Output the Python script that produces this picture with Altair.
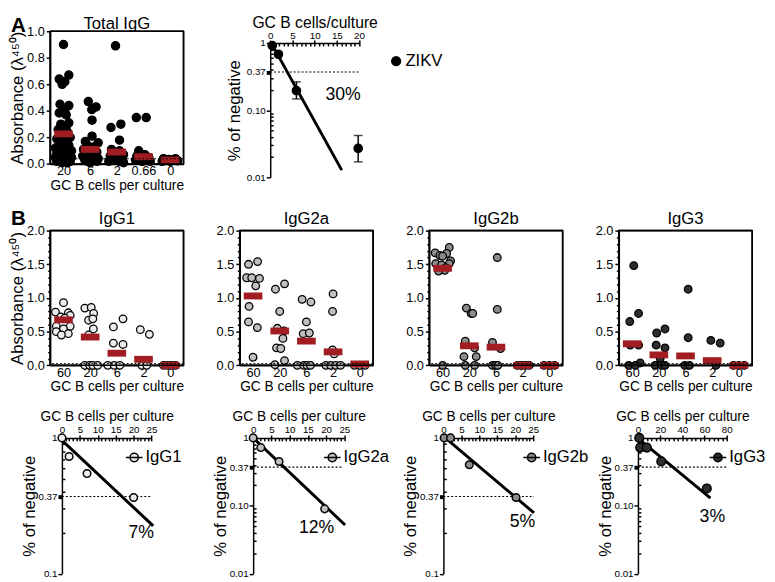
import altair as alt
import pandas as pd

FONT = "Liberation Sans"
RED = "#a11d21"

W = 136
H_A = 135.4
H_B = 137.4
H_C = 145
COL_GAP = 57.3
ROW_GAP = 67.3

# ---------------- Panel A left: Total IgG ----------------
tot_cats = ["20", "6", "2", "0.66", "0"]
tot_y = [
    [0.90, 0.67, 0.64, 0.62, 0.60, 0.45, 0.44, 0.40, 0.385, 0.37, 0.31, 0.30, 0.28, 0.26, 0.24,
     0.22, 0.20, 0.19, 0.17, 0.16, 0.14, 0.12, 0.11, 0.10, 0.10, 0.09, 0.08, 0.08, 0.07, 0.06,
     0.06, 0.05, 0.05, 0.04, 0.04, 0.03, 0.03, 0.02, 0.02, 0.01, 0.01],
    [0.47, 0.43, 0.41, 0.33, 0.21, 0.17, 0.16, 0.14, 0.13, 0.11, 0.10, 0.09, 0.08, 0.07, 0.06,
     0.05, 0.05, 0.04, 0.03, 0.03, 0.02, 0.02, 0.01],
    [0.89, 0.30, 0.275, 0.18, 0.11, 0.10, 0.08, 0.07, 0.06, 0.05, 0.04, 0.03, 0.02, 0.02, 0.01],
    [0.35, 0.35, 0.10, 0.07, 0.06, 0.05, 0.04, 0.03, 0.03, 0.02, 0.02],
    [0.04, 0.04, 0.035, 0.03, 0.03, 0.025, 0.02, 0.02],
]
tot_dx = [
    [0.0, 0.2, -0.16, 0.05, -0.05, -0.13, 0.2, 0.05, -0.16, 0.1, 0.2, -0.1, 0.1, -0.2, 0.15,
     -0.05, 0.25, -0.25, 0.1, -0.15, 0.2, -0.3, 0.05, 0.3, -0.1, 0.15, -0.25, 0.25, -0.05, 0.1,
     -0.2, 0.3, -0.3, 0.0, 0.2, -0.15, 0.1, -0.25, 0.25, -0.05, 0.15],
    [-0.07, 0.22, 0.06, 0.07, 0.07, -0.18, 0.3, -0.1, 0.15, -0.25, 0.05, 0.25, -0.15, 0.1, -0.28,
     0.2, -0.05, 0.3, -0.2, 0.1, -0.1, 0.25, 0.0],
    [-0.05, 0.15, -0.22, 0.1, -0.2, 0.1, -0.05, 0.25, -0.25, 0.05, 0.2, -0.15, 0.1, -0.3, 0.25],
    [-0.27, 0.1, -0.18, 0.05, -0.25, 0.2, -0.1, 0.1, -0.3, 0.25, -0.05],
    [-0.25, 0.2, -0.05, 0.1, -0.2, 0.28, 0.0, -0.3],
]
tot_means = [0.227, 0.11, 0.09, 0.055, 0.03]
tot_cutoff = 0.04
tot_ticks = [0, 0.2, 0.4, 0.6, 0.8, 1.0]

# ---------------- Panel B top: isotypes ----------------
b_cats = ["60", "20", "6", "2", "0"]
b_ticks = [0, 0.5, 1.0, 1.5, 2.0]
b_minor = [0.1, 0.2, 0.3, 0.4, 0.6, 0.7, 0.8, 0.9, 1.1, 1.2, 1.3, 1.4, 1.6, 1.7, 1.8, 1.9]
b_cutoff = 0.025

igg1_y = [[0.93, 0.79, 0.78, 0.74, 0.72, 0.70, 0.58, 0.58, 0.54, 0.50, 0.47, 0.45],
          [0.85, 0.86, 0.77, 0.67, 0.69, 0.54, 0.45, 0, 0, 0, 0],
          [0.57, 0.69, 0.33, 0.31, 0, 0, 0],
          [0.53, 0.46, 0, 0],
          [0, 0, 0, 0]]
igg1_dx = [[0.0, -0.3, 0.18, 0.25, -0.1, 0.05, -0.27, 0.25, 0.0, -0.27, 0.18, -0.08],
           [-0.2, 0.04, 0.13, -0.06, 0.1, 0.12, -0.06, -0.2, -0.02, 0.1, 0.28],
           [-0.13, 0.23, -0.13, 0.23, -0.34, -0.1, 0.11],
           [-0.12, 0.22, -0.06, 0.12],
           [-0.25, -0.1, 0.05, 0.2]]
igg1_means = [0.675, 0.42, 0.18, 0.09, 0.0]

igg2a_y = [[1.54, 1.50, 1.30, 1.30, 1.18, 1.29, 0.875, 0.645, 0.56, 0.12],
           [1.13, 1.21, 0.80, 0.55, 0.51, 0.40, 0.26, 0.25, 0.07, 0.01],
           [0.98, 0.94, 0.645, 0.47, 0.48, 0, 0, 0, 0],
           [1.06, 0.80, 0.23, 0.17, 0, 0, 0, 0],
           [0, 0, 0]]
igg2a_dx = [[0.17, -0.17, -0.24, -0.05, 0.1, 0.24, -0.15, -0.17, 0.16, 0.0],
            [-0.16, 0.18, 0.0, -0.09, 0.16, 0.12, -0.12, 0.04, 0.18, -0.18],
            [-0.16, 0.17, 0.0, -0.12, 0.11, -0.34, -0.1, 0.02, 0.15],
            [0.0, -0.02, -0.02, 0.04, -0.27, -0.09, 0.1, 0.28],
            [-0.2, 0.0, 0.2]]
igg2a_means = [1.03, 0.51, 0.36, 0.20, 0.02]

igg2b_y = [[1.75, 1.67, 1.66, 1.63, 1.62, 1.55, 1.51, 1.51, 1.49, 1.45, 1.41, 1.40, 0.0],
           [0.85, 0.77, 0.77, 0.36, 0.26, 0.13, 0.13, 0, 0],
           [1.60, 0.83, 0.34, 0.25, 0, 0, 0],
           [0, 0, 0, 0],
           [0, 0, 0]]
igg2b_dx = [[0.25, -0.28, 0.15, -0.1, 0.0, 0.3, -0.26, 0.25, -0.04, 0.12, 0.08, -0.15, 0.0],
            [-0.11, 0.07, 0.13, -0.15, 0.2, -0.2, 0.26, -0.15, 0.2],
            [0.05, 0.05, -0.13, 0.17, -0.13, -0.01, 0.07],
            [-0.2, -0.05, 0.1, 0.25],
            [-0.2, 0.0, 0.2]]
igg2b_means = [1.44, 0.29, 0.27, 0.0, 0.0]

igg3_y = [[1.48, 0.77, 0.65, 0.30, 0.30, 0.035, 0, 0],
          [0.48, 0.54, 0.30, 0.26, 0.10, 0, 0, 0],
          [1.13, 0.41, 0, 0],
          [0.37, 0.33, 0],
          [0, 0, 0]]
igg3_dx = [[0.06, 0.24, -0.09, -0.07, 0.24, 0.3, -0.13, 0.12],
           [-0.08, 0.23, -0.1, 0.23, 0.05, -0.14, 0.1, 0.23],
           [0.1, 0.1, -0.03, 0.15],
           [-0.05, 0.3, 0.14],
           [-0.2, 0.0, 0.2]]
igg3_means = [0.32, 0.155, 0.14, 0.07, 0.0]

fill_igg1 = "#ececec"
fill_igg2a = "#bfbfbf"
fill_igg2b = "#8c8c8c"
fill_igg3 = "#2e2e2e"

# ---------------- Panel A right: limiting dilution ZIKV ----------------
zikv_x = [0.45, 1.85, 5.9, 19.8]
zikv_y = [0.915, 0.68, 0.195, 0.027]
zikv_err_x = [5.9, 19.8]
zikv_err_lo = [0.147, 0.017]
zikv_err_hi = [0.264, 0.042]
zikv_line_x = [0.3, 16.1]
zikv_line_y = [0.98, 0.0128]

# ---------------- Panel B bottom: limiting dilution per isotype ----------------
ld_igg1_x = [0, 2, 7, 20]
ld_igg1_y = [1.0, 0.73, 0.546, 0.364]
ld_igg1_lx = [0, 25.45]
ld_igg1_ly = [0.96, 0.225]

ld_igg2a_x = [0, 2.1, 7.1, 19.6]
ld_igg2a_y = [1.0, 0.72, 0.45, 0.09]
ld_igg2a_lx = [0.2, 25.2]
ld_igg2a_ly = [0.98, 0.052]

ld_igg2b_x = [0.2, 2, 7.2, 20.2]
ld_igg2b_y = [1.0, 1.0, 0.634, 0.364]
ld_igg2b_lx = [1.1, 25.2]
ld_igg2b_ly = [0.97, 0.28]

ld_igg3_x = [1.2, 2, 8, 21, 62]
ld_igg3_y = [1.0, 0.72, 0.72, 0.45, 0.18]
ld_igg3_lx = [1.2, 65.3]
ld_igg3_ly = [0.95, 0.13]

LEG_PATH = "M-1,0L1,0M-0.5,0A0.5,0.5,0,1,1,0.5,0A0.5,0.5,0,1,1,-0.5,0Z"


def label_expr(values, labels):
    expr = "'" + labels[-1] + "'"
    for v, l in reversed(list(zip(values[:-1], labels[:-1]))):
        expr = f"abs(datum.value - {v}) < 1e-6 ? '{l}' : " + expr
    return expr


def text_layer(txt, x, y, size, weight="normal", align="center"):
    return alt.Chart(pd.DataFrame({"t": [txt]})).mark_text(
        fontSize=size, fontWeight=weight, align=align, baseline="alphabetic", font=FONT,
        color="black").encode(text="t:N", x=alt.value(x), y=alt.value(y))


def strip_chart(cats, ys, dxs, means, cutoff, ymax, major, minor, fill, size, H,
                title, ytitle, xtitle, title_y, letter=None, letter_y=0):
    xs, yv = [], []
    for i, (yy, dd) in enumerate(zip(ys, dxs)):
        for y, d in zip(yy, dd):
            xs.append(i + d)
            yv.append(y)
    pts = pd.DataFrame({"x": xs, "y": yv})
    n = len(cats)
    mdf = pd.DataFrame({"x": list(range(n)), "y": means})
    lo, hi = -0.5, n - 0.5
    frame = pd.DataFrame({"fx": [lo, hi, lo, lo], "fx2": [lo, hi, hi, hi],
                          "fy": [0, 0, 0, ymax], "fy2": [ymax, ymax, 0, ymax]})
    xscale = alt.Scale(domain=[lo, hi], nice=False, zero=False)
    yscale = alt.Scale(domain=[0, ymax], nice=False, zero=False)
    cat_expr = "[" + ",".join(f"'{c}'" for c in cats) + "][datum.value]"
    xaxis = alt.Axis(orient="bottom", values=list(range(n)), labelExpr=cat_expr, title=xtitle,
                     domain=True, tickSize=0, labelFontSize=13, titleFontSize=14,
                     labelPadding=1, titlePadding=1, labelFlush=False, labelColor="black")
    yaxis = alt.Axis(orient="left", values=major, format=".1f", title=ytitle if ytitle else None,
                     domain=True, tickSize=4, labelFontSize=13, titleFontSize=17,
                     labelPadding=2, titlePadding=0)
    if minor:
        minor_axis = alt.Axis(orient="left", values=minor, labels=False, domain=False,
                              tickSize=2.5, title=None)
    else:
        minor_axis = None
    layers = [
        alt.Chart(pts).mark_circle(size=size, fill=fill, stroke="black", strokeWidth=1.3,
                                   opacity=1).encode(
            x=alt.X("x:Q", scale=xscale, axis=xaxis),
            y=alt.Y("y:Q", scale=yscale, axis=yaxis)),
        alt.Chart(mdf).mark_tick(orient="horizontal", size=19, thickness=7, color=RED,
                                 opacity=1).encode(
            x=alt.X("x:Q", scale=xscale, axis=None),
            y=alt.Y("y:Q", scale=yscale, axis=None)),
        alt.Chart(pd.DataFrame({"y": [cutoff]})).mark_rule(
            strokeDash=[2, 2], strokeWidth=1, color="black").encode(
            y=alt.Y("y:Q", scale=yscale, axis=minor_axis)),
        alt.Chart(frame).mark_rule(color="black", strokeWidth=1.6).encode(
            x=alt.X("fx:Q", scale=xscale, axis=None), x2="fx2:Q",
            y=alt.Y("fy:Q", scale=yscale, axis=None), y2="fy2:Q"),
        text_layer(title, W / 2, title_y, 17),
    ]
    if letter:
        layers.append(text_layer(letter, -40, letter_y, 21, weight="bold", align="left"))
    ch = alt.layer(*layers).resolve_axis(x="independent", y="independent")
    return ch.properties(width=W, height=H,
                         view=alt.ViewBackground(stroke="black", strokeWidth=1.5))


def log_chart(name, fill, px, py, lx, ly, xdom, xticks, xminor, ydom, yticks, ylabels,
              yminor, xr, yr, H, pct, pct_x, pct_y, dot_x1, leg_x, leg_y, sym, sym_size,
              xtitle, xtitle_size, size, ytitle_pad=0, xtitle_y=None, xtitle_pad=2,
              err=None, label_offset=2):
    xscale = alt.Scale(domain=xdom, range=xr, nice=False, zero=False)
    yscale = alt.Scale(type="log", domain=ydom, range=[yr[1], yr[0]], nice=False)
    pts = pd.DataFrame({"x": px, "y": py, "s": [name] * len(px)})
    xkw = {}
    if xtitle_y is not None:
        xkw = {"titleY": xtitle_y, "titleBaseline": "alphabetic"}
    xaxis = alt.Axis(orient="top", offset=-yr[0], values=xticks, format="d", tickSize=3,
                     labelFontSize=10, labelPadding=0, title=xtitle, titleFontSize=xtitle_size,
                     titlePadding=xtitle_pad, labelFlush=False, **xkw)
    yaxis = alt.Axis(orient="left", offset=-xr[0], values=yticks,
                     labelExpr=label_expr(yticks, ylabels), tickSize=4, labelFontSize=10,
                     labelPadding=1, title="% of negative", titleFontSize=17,
                     titlePadding=ytitle_pad,
                     tickWidth={"condition": {"test": "abs(datum.value - 0.37) < 1e-6",
                                              "value": 4}, "value": 1.5})
    legend = alt.Legend(orient="none", legendX=leg_x, legendY=leg_y, title=None,
                        labelFontSize=17, symbolType=sym, symbolSize=sym_size,
                        symbolStrokeColor="black", symbolStrokeWidth=1.5, padding=0,
                        labelOffset=label_offset)
    layers = [
        alt.Chart(pd.DataFrame({"x": [xdom[0]], "x2": [dot_x1], "y": [0.37]})).mark_rule(
            strokeDash=[2, 2], strokeWidth=1.2, color="black").encode(
            x=alt.X("x:Q", scale=xscale, axis=None), x2="x2:Q",
            y=alt.Y("y:Q", scale=yscale, axis=None)),
        alt.Chart(pd.DataFrame({"x": lx, "y": ly})).mark_line(
            color="black", strokeWidth=3).encode(
            x=alt.X("x:Q", scale=xscale, axis=None),
            y=alt.Y("y:Q", scale=yscale, axis=None)),
    ]
    if err:
        edf = pd.DataFrame({"x": err[0], "lo": err[1], "hi": err[2]})
        layers.append(alt.Chart(edf).mark_rule(color="black", strokeWidth=1.5).encode(
            x=alt.X("x:Q", scale=xscale, axis=None),
            y=alt.Y("lo:Q", scale=yscale, axis=None), y2="hi:Q"))
        for col in ["lo", "hi"]:
            layers.append(alt.Chart(edf).mark_tick(
                orient="horizontal", size=9, thickness=1.5, color="black").encode(
                x=alt.X("x:Q", scale=xscale, axis=None),
                y=alt.Y(f"{col}:Q", scale=yscale, axis=None)))
    layers += [
        alt.Chart(pts).mark_circle(size=size, stroke="black", strokeWidth=1.5,
                                   opacity=1).encode(
            x=alt.X("x:Q", scale=xscale, axis=xaxis),
            y=alt.Y("y:Q", scale=yscale, axis=yaxis),
            color=alt.Color("s:N", scale=alt.Scale(domain=[name], range=[fill]),
                            legend=legend)),
        alt.Chart(pd.DataFrame({"x": [pct_x], "y": [pct_y], "t": [pct]})).mark_text(
            fontSize=18, font=FONT, color="black").encode(
            x=alt.X("x:Q", scale=xscale, axis=None),
            y=alt.Y("y:Q", scale=yscale, axis=None), text="t:N"),
        alt.Chart(pts).mark_point(opacity=0).encode(
            x=alt.X("x:Q", scale=xscale,
                    axis=alt.Axis(orient="bottom", offset=yr[0] - H, values=xminor,
                                  labels=False, domain=False, tickSize=3, title=None))),
        alt.Chart(pts).mark_point(opacity=0).encode(
            y=alt.Y("y:Q", scale=yscale,
                    axis=alt.Axis(orient="right", offset=xr[0] - W, values=yminor,
                                  labels=False, domain=False, tickSize=3, title=None))),
    ]
    return alt.layer(*layers).resolve_axis(x="independent", y="independent").properties(
        width=W, height=H, view=alt.ViewBackground(stroke="transparent"))


minor_1 = [0.2, 0.3, 0.4, 0.5, 0.6, 0.7, 0.8, 0.9]
minor_2 = [0.02, 0.03, 0.04, 0.05, 0.06, 0.07, 0.08, 0.09] + minor_1
x25_major = [0, 5, 10, 15, 20, 25]
x25_minor = list(range(0, 26))
x20_major = [0, 5, 10, 15, 20]
x20_minor = list(range(0, 21))
x80_major = [0, 20, 40, 60, 80]
x80_minor = list(range(0, 81, 4))

YTITLE = "Absorbance (λ⁴⁵⁰)"
XTITLE = "GC B cells per culture"

a_left = strip_chart(tot_cats, tot_y, tot_dx, tot_means, tot_cutoff, 1.0, tot_ticks, None,
                     "black", 70, H_A, "Total IgG", YTITLE, XTITLE, -2,
                     letter="A", letter_y=1)

a_right = log_chart("ZIKV", "black", zikv_x, zikv_y, zikv_line_x, zikv_line_y,
                    [0, 20], x20_major, x20_minor, [0.01, 1], [1, 0.37, 0.1, 0.01],
                    ["1", "0.37", "0.10", "0.01"], minor_2, [31.1, 121.7], [12, 149], H_A,
                    "30%", 16.4, 0.169, 20, 151, 22, "circle", 80,
                    "GC B cells/culture", 16, 70, ytitle_pad=3, xtitle_y=-16.2,
                    err=(zikv_err_x, zikv_err_lo, zikv_err_hi), label_offset=1)


def blank():
    return alt.Chart(pd.DataFrame({"a": [0]})).mark_point(opacity=0).encode(
        x=alt.value(0), y=alt.value(0)).properties(
        width=W, height=H_A, view=alt.ViewBackground(stroke="transparent"))


b1 = strip_chart(b_cats, igg1_y, igg1_dx, igg1_means, b_cutoff, 2.0, b_ticks, b_minor,
                 fill_igg1, 60, H_B, "IgG1", YTITLE, XTITLE, -7, letter="B", letter_y=-6)
b2 = strip_chart(b_cats, igg2a_y, igg2a_dx, igg2a_means, b_cutoff, 2.0, b_ticks, b_minor,
                 fill_igg2a, 60, H_B, "IgG2a", None, XTITLE, -7)
b3 = strip_chart(b_cats, igg2b_y, igg2b_dx, igg2b_means, b_cutoff, 2.0, b_ticks, b_minor,
                 fill_igg2b, 60, H_B, "IgG2b", None, XTITLE, -7)
b4 = strip_chart(b_cats, igg3_y, igg3_dx, igg3_means, b_cutoff, 2.0, b_ticks, b_minor,
                 fill_igg3, 60, H_B, "IgG3", None, XTITLE, -7)

CY = [6.1, 144.5]
LEG_Y = 16.6
c1 = log_chart("IgG1", fill_igg1, ld_igg1_x, ld_igg1_y, ld_igg1_lx, ld_igg1_ly,
               [0, 25], x25_major, x25_minor, [0.1, 1], [1, 0.37, 0.1], ["1", "0.37", "0.1"],
               minor_1, [12, 103.4], CY, H_C, "7%", 22.1, 0.198, 25,
               76.2, LEG_Y, LEG_PATH, 289, XTITLE, 14, 60)
c2 = log_chart("IgG2a", fill_igg2a, ld_igg2a_x, ld_igg2a_y, ld_igg2a_lx, ld_igg2a_ly,
               [0, 25], x25_major, x25_minor, [0.01, 1], [1, 0.37, 0.1, 0.01],
               ["1", "0.37", "0.10", "0.01"], minor_2, [13.7, 106.7], CY, H_C,
               "12%", 17.4, 0.047, 24.6, 84.9, LEG_Y, LEG_PATH, 289, XTITLE, 14, 60)
c3 = log_chart("IgG2b", fill_igg2b, ld_igg2b_x, ld_igg2b_y, ld_igg2b_lx, ld_igg2b_ly,
               [0, 25], x25_major, x25_minor, [0.1, 1], [1, 0.37, 0.1], ["1", "0.37", "0.1"],
               minor_1, [14.4, 106.1], CY, H_C, "5%", 22, 0.24, 25.2,
               94.9, LEG_Y, LEG_PATH, 289, XTITLE, 14, 60)
c4 = log_chart("IgG3", fill_igg3, ld_igg3_x, ld_igg3_y, ld_igg3_lx, ld_igg3_ly,
               [0, 80], x80_major, x80_minor, [0.01, 1], [1, 0.37, 0.1, 0.01],
               ["1", "0.37", "0.10", "0.01"], minor_2, [19.5, 110.1], CY, H_C,
               "3%", 67, 0.067, 80, 91.6, LEG_Y, LEG_PATH, 289, XTITLE, 14, 78)

chart = alt.concat(
    a_left, a_right, blank(), blank(),
    b1, b2, b3, b4,
    c1, c2, c3, c4,
    columns=4, spacing={"row": ROW_GAP, "column": COL_GAP}, bounds="flush",
    align={"row": "each", "column": "all"},
).resolve_scale(color="independent").properties(
    padding=0, background="white"
).configure_axis(
    labelFont=FONT, titleFont=FONT, labelColor="black", titleColor="black",
    tickColor="black", domainColor="black", grid=False, titleFontWeight="normal",
    tickWidth=1.5, domainWidth=1.5
).configure_legend(
    labelFont=FONT, labelColor="black"
)

chart.save("out.html", embed_options={"renderer": "svg", "actions": False})
